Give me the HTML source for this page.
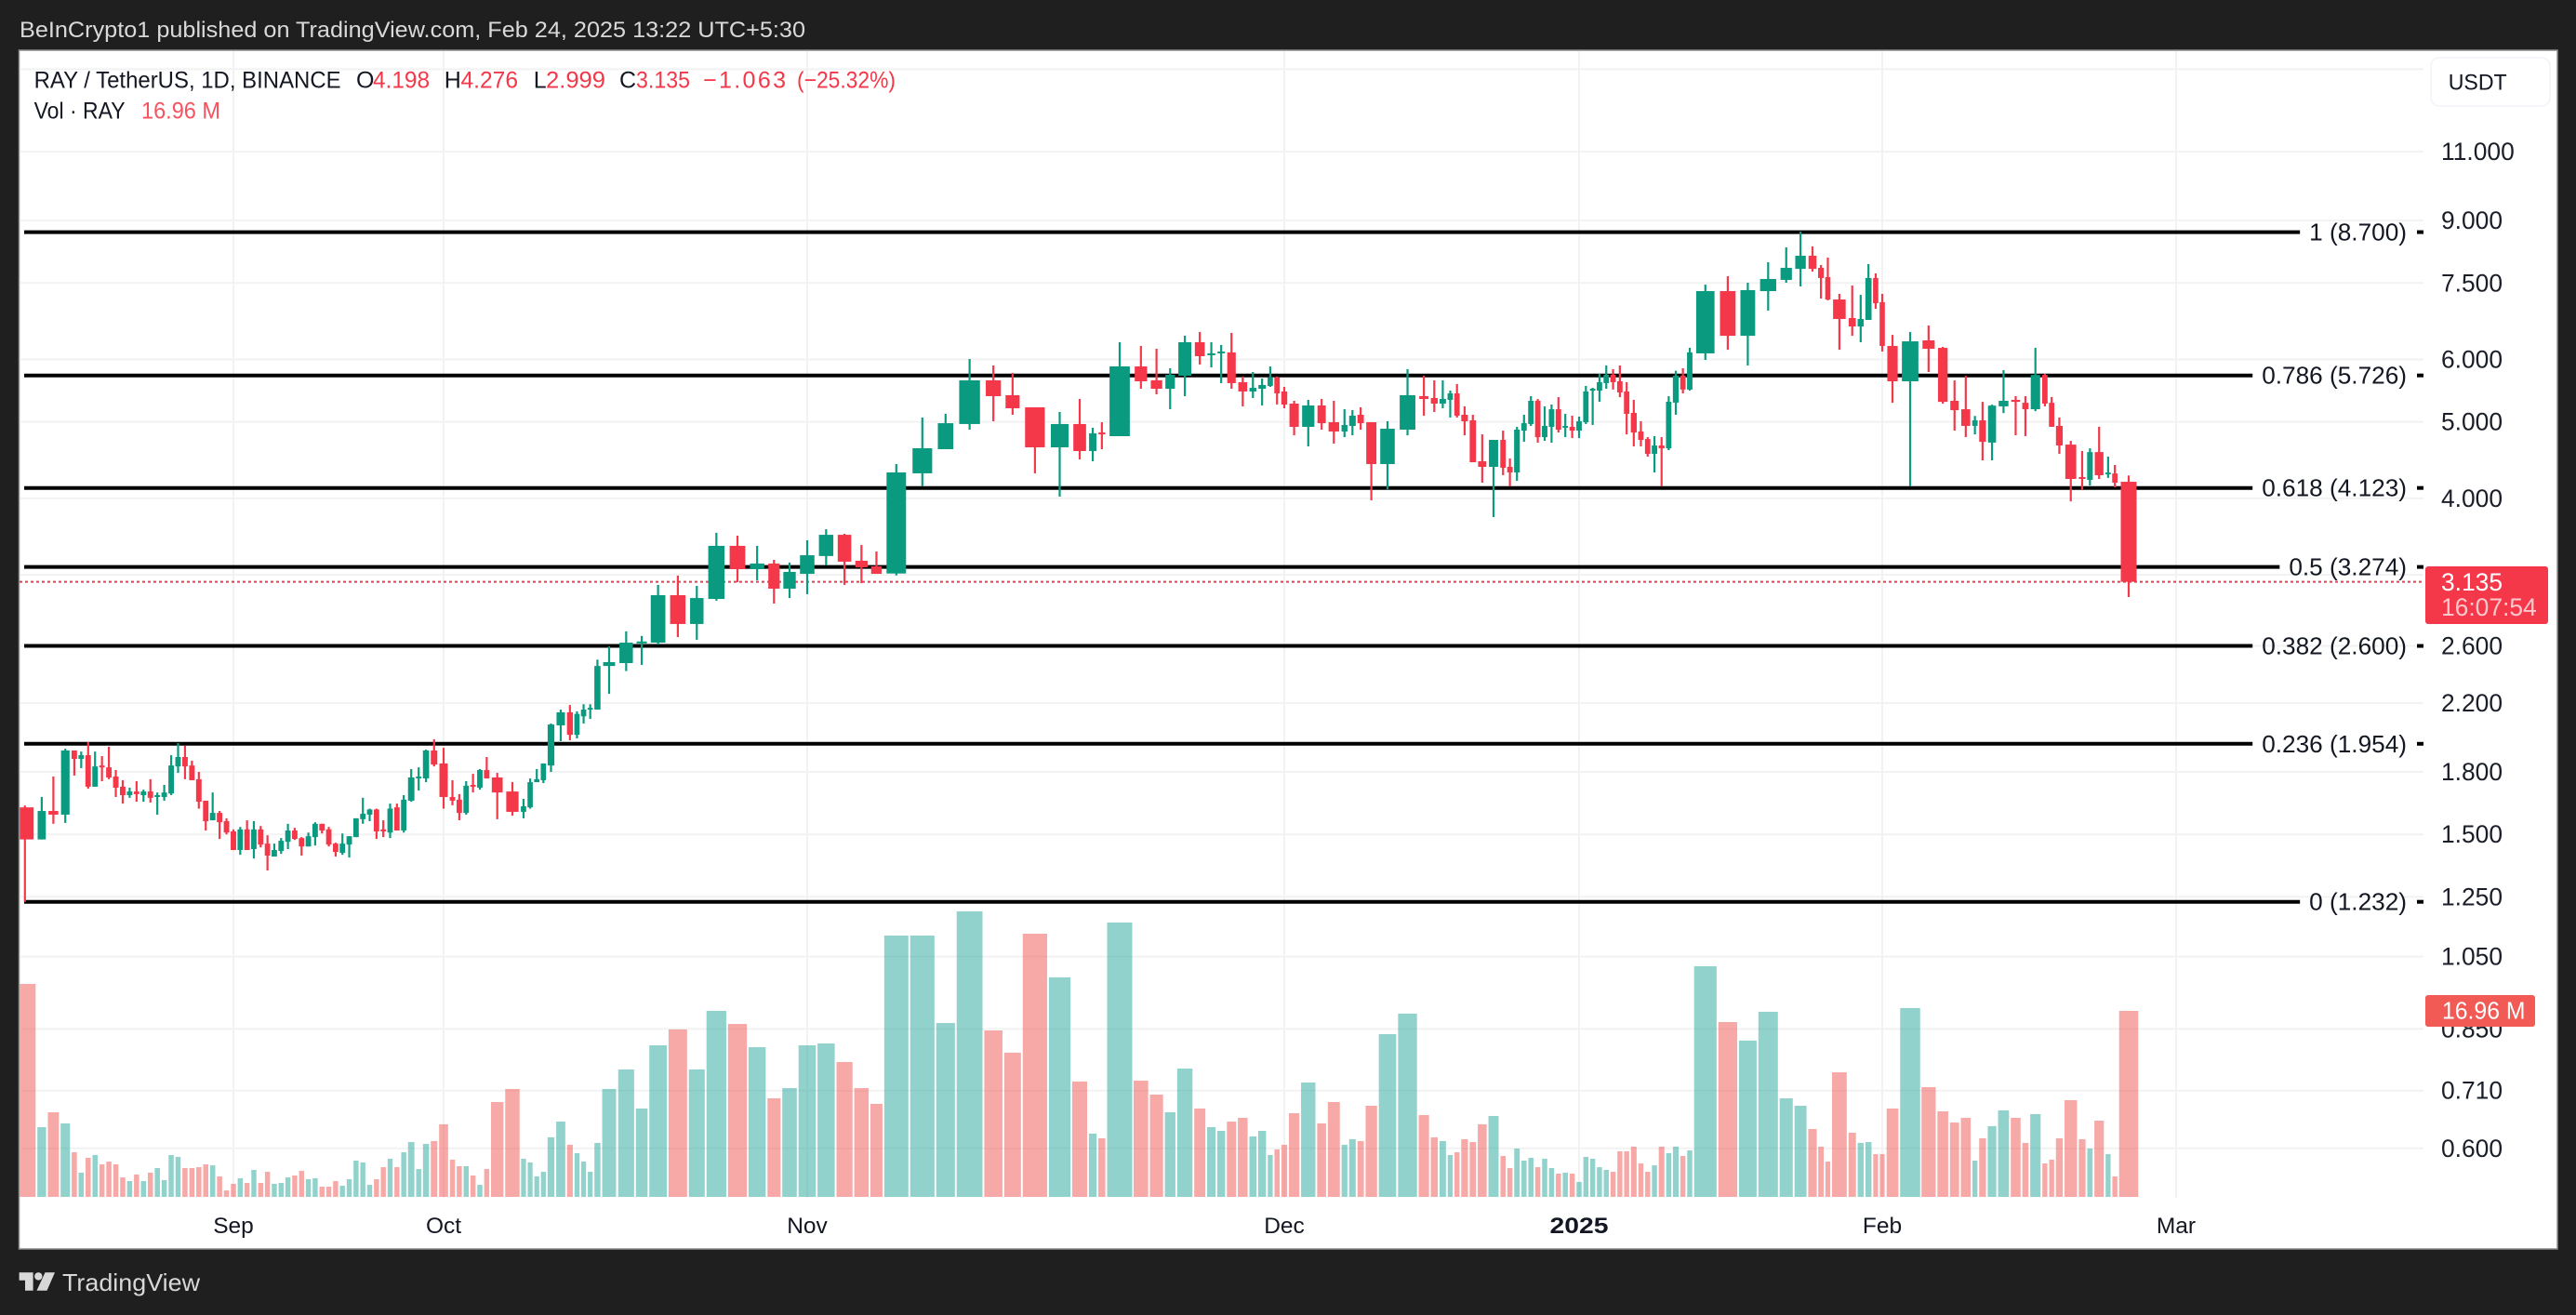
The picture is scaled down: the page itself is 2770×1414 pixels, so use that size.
<!DOCTYPE html>
<html lang="en">
<head>
<meta charset="utf-8">
<title>RAY / TetherUS, 1D, BINANCE</title>
<style>
html,body{margin:0;padding:0;background:#1f1f1f;}
svg{display:block;font-family:"Liberation Sans",Arial,sans-serif;}
</style>
</head>
<body>
<svg id="chart" xmlns="http://www.w3.org/2000/svg" width="2770" height="1414" viewBox="0 0 2770 1414">
  <rect x="0" y="0" width="2770" height="1414" fill="#1f1f1f"/>
  <text x="21" y="40" font-size="24.5" fill="#d9d9d9" textLength="845" lengthAdjust="spacingAndGlyphs">BeInCrypto1 published on TradingView.com, Feb 24, 2025 13:22 UTC+5:30</text>
  <rect x="20.5" y="54" width="2729.5" height="1289" fill="#ffffff" stroke="#8c8c8c" stroke-width="1.5"/>
  <defs><clipPath id="plot-clip"><rect x="21.3" y="55" width="2585" height="1233"/></clipPath></defs>
  <g id="grid"></g>
  <g id="volume" clip-path="url(#plot-clip)"></g>
  <g id="fib"></g>
  <line id="lastLine" x1="21" x2="2604" stroke="#f43749" stroke-width="2" stroke-dasharray="3 3"/>
  <g id="candles" clip-path="url(#plot-clip)"></g>
  <g id="yAxis"></g>
  <g id="xAxis"></g>

  <g font-size="25" fill="#131722">
    <text x="36.6" y="94.6" textLength="330" lengthAdjust="spacingAndGlyphs">RAY / TetherUS, 1D, BINANCE</text>
    <text x="383" y="94.6">O</text>
    <text x="401" y="94.6" fill="#f43749" textLength="61" lengthAdjust="spacingAndGlyphs">4.198</text>
    <text x="477.7" y="94.6">H</text>
    <text x="495.5" y="94.6" fill="#f43749" textLength="61.5" lengthAdjust="spacingAndGlyphs">4.276</text>
    <text x="573.7" y="94.6">L</text>
    <text x="587" y="94.6" fill="#f43749" textLength="64" lengthAdjust="spacingAndGlyphs">2.999</text>
    <text x="666" y="94.6">C</text>
    <text x="684" y="94.6" fill="#f43749" textLength="58" lengthAdjust="spacingAndGlyphs">3.135</text>
    <text x="756" y="94.6" fill="#f43749" textLength="89" lengthAdjust="spacing">−1.063</text>
    <text x="857" y="94.6" fill="#f43749" textLength="106" lengthAdjust="spacingAndGlyphs">(−25.32%)</text>
    <text x="36.6" y="127.6" textLength="98" lengthAdjust="spacingAndGlyphs">Vol · RAY</text>
    <text x="152" y="127.6" fill="#f7525f" textLength="85" lengthAdjust="spacingAndGlyphs">16.96 M</text>
  </g>

  <g>
    <rect x="2614" y="62" width="128" height="52" rx="9" fill="#ffffff" stroke="#f0f3fa" stroke-width="1.5"/>
    <text x="2632.7" y="96.5" font-size="24" fill="#131722" textLength="63" lengthAdjust="spacingAndGlyphs">USDT</text>
  </g>

  <g>
    <rect x="2608" y="609" width="132" height="62" rx="3" fill="#f43749"/>
    <text x="2625" y="635" font-size="26.4" fill="#ffffff">3.135</text>
    <text x="2625" y="662" font-size="26.4" fill="#fcc8cd">16:07:54</text>
  </g>
  <g>
    <rect x="2608" y="1070" width="118" height="34" rx="3" fill="#f15a55"/>
    <text x="2626" y="1095.7" font-size="26" fill="#ffffff" textLength="89.5" lengthAdjust="spacingAndGlyphs">16.96 M</text>
  </g>

  <g fill="#d8d8d8">
    <path d="M20.6 1368.3H35.6V1387.7H27V1376.7H20.6Z"/>
    <circle cx="41.3" cy="1372.4" r="4.2"/>
    <path d="M48.5 1368.3H59L50.5 1387.7H39.5Z"/>
    <text x="67" y="1388" font-size="26" textLength="148" lengthAdjust="spacingAndGlyphs">TradingView</text>
  </g>
</svg>

<script>
// ---- Chart data (Aug 5 2024 – Feb 24 2025, one entry per day) ----
const opens = [
1.623,1.478,1.606,1.589,1.916,1.870,1.890,1.724,1.834,1.824,
1.776,1.724,1.682,1.700,1.682,1.700,1.673,1.673,1.690,1.829,
1.880,1.834,1.762,1.655,1.563,1.597,1.559,1.513,1.433,1.522,
1.437,1.522,1.460,1.406,1.429,1.468,1.517,1.484,1.448,1.488,
1.547,1.522,1.460,1.421,1.456,1.488,1.568,1.589,1.613,1.522,
1.508,1.623,1.517,1.655,1.766,1.766,1.916,1.845,1.673,1.660,
1.597,1.733,1.719,1.810,1.771,1.700,1.602,1.623,1.747,1.757,
1.834,2.062,2.142,2.006,2.117,2.159,2.159,2.452,2.473,2.619,
2.625,3.015,2.772,2.982,3.482,3.253,3.307,3.073,3.209,3.380,
3.596,3.334,3.280,3.212,4.303,4.617,4.969,5.645,5.405,5.217,
4.642,4.969,4.592,4.848,4.796,5.879,5.645,5.508,5.721,6.309,
6.074,6.107,6.124,5.614,5.464,5.508,5.553,5.691,5.464,5.274,
4.928,5.245,4.995,4.862,4.941,5.105,4.995,4.421,4.888,5.390,
5.361,5.274,5.332,5.434,5.105,5.023,4.457,4.385,4.744,4.385,
4.314,4.874,4.969,5.317,4.782,4.928,5.188,4.915,4.928,4.874,
4.995,5.478,5.478,5.599,5.737,5.629,5.464,5.133,4.862,4.756,
4.555,4.667,4.629,5.289,5.721,5.495,6.107,7.324,6.428,7.324,
7.568,7.815,8.120,7.838,7.629,7.147,6.770,6.606,6.733,7.609,
7.090,6.240,5.629,6.343,6.206,5.317,5.188,4.942,5.023,4.707,
5.232,5.332,5.287,5.188,5.734,5.287,4.942,4.679,4.256,4.221,
4.578,4.290,4.301,4.198];
const highs = [
1.632,1.673,1.776,1.926,1.916,1.910,1.964,1.910,1.885,1.937,
1.810,1.757,1.719,1.752,1.709,1.762,1.695,1.733,1.890,1.958,
1.943,1.860,1.800,1.655,1.695,1.606,1.572,1.522,1.533,1.563,
1.559,1.537,1.496,1.460,1.484,1.547,1.529,1.488,1.508,1.554,
1.547,1.533,1.464,1.504,1.492,1.572,1.669,1.617,1.617,1.563,
1.641,1.641,1.682,1.815,1.824,1.921,1.980,1.931,1.757,1.687,
1.752,1.790,1.815,1.880,1.795,1.747,1.664,1.766,1.815,1.845,
2.073,2.159,2.188,2.148,2.193,2.193,2.498,2.597,2.713,2.677,
3.107,3.192,3.098,3.617,3.587,3.482,3.343,3.316,3.539,3.655,
3.607,3.491,3.425,4.421,5.064,5.119,6.008,5.895,5.768,5.217,
5.147,5.346,4.915,4.995,6.309,6.241,6.190,5.847,6.430,6.500,
6.309,6.258,6.483,5.706,5.784,5.675,5.879,5.706,5.538,5.317,
5.332,5.346,5.317,5.188,5.175,5.217,4.995,5.009,5.832,5.721,
5.645,5.645,5.478,5.584,5.231,5.105,4.821,4.744,4.874,4.493,
4.928,5.105,5.390,5.346,5.231,5.260,5.374,5.119,5.091,5.078,
5.553,5.522,5.752,5.895,5.832,5.895,5.614,5.332,5.009,4.782,
4.796,4.782,5.390,5.805,5.847,6.207,7.464,7.649,7.505,7.968,
8.321,8.713,8.344,7.902,8.077,7.265,7.444,7.244,7.924,7.712,
7.265,6.445,6.499,6.624,6.223,5.643,5.718,5.088,5.301,5.258,
5.815,5.390,5.390,6.206,5.752,5.377,5.064,4.731,4.592,4.629,
4.929,4.518,4.409,4.276];
const lows = [
1.232,1.478,1.547,1.551,1.781,1.820,1.714,1.724,1.752,1.762,
1.673,1.641,1.669,1.650,1.650,1.646,1.589,1.655,1.682,1.795,
1.762,1.757,1.617,1.517,1.563,1.480,1.500,1.433,1.413,1.433,
1.398,1.444,1.350,1.406,1.417,1.437,1.476,1.410,1.448,1.452,
1.504,1.448,1.406,1.413,1.402,1.488,1.547,1.559,1.480,1.488,
1.484,1.517,1.508,1.650,1.705,1.747,1.829,1.617,1.633,1.563,
1.589,1.695,1.709,1.766,1.568,1.584,1.572,1.617,1.747,1.742,
1.800,1.969,1.974,1.985,2.073,2.101,2.159,2.261,2.416,2.460,
2.610,2.668,2.647,2.967,3.132,3.149,2.942,2.990,3.024,3.289,
3.107,3.123,3.209,3.194,4.142,4.617,4.888,5.009,5.105,4.303,
4.020,4.481,4.457,4.617,4.796,5.508,5.419,5.188,5.390,5.911,
5.862,5.599,5.508,5.231,5.361,5.245,5.538,5.260,5.203,4.808,
4.655,4.888,4.693,4.782,4.808,4.888,3.977,4.106,4.808,5.091,
5.147,5.203,5.064,5.064,4.808,4.445,4.187,3.787,4.280,4.142,
4.209,4.719,4.941,4.706,4.731,4.706,4.848,4.782,4.769,4.769,
4.969,4.955,5.303,5.508,5.495,5.374,4.821,4.655,4.655,4.518,
4.314,4.142,4.604,5.105,5.434,5.478,5.991,6.172,5.894,6.919,
7.505,7.425,7.754,7.167,7.129,6.172,6.428,6.308,6.733,6.956,
6.140,5.287,4.142,5.784,5.274,4.874,4.783,4.821,4.469,4.469,
5.130,4.809,4.797,5.159,5.232,4.929,4.554,3.965,4.097,4.153,
4.233,4.246,4.131,2.999];
const closes = [
1.478,1.606,1.589,1.916,1.870,1.890,1.724,1.829,1.824,1.771,
1.719,1.682,1.700,1.687,1.700,1.669,1.682,1.695,1.834,1.880,
1.829,1.757,1.650,1.559,1.597,1.554,1.508,1.433,1.522,1.433,
1.522,1.456,1.410,1.433,1.472,1.517,1.480,1.448,1.492,1.547,
1.517,1.456,1.425,1.460,1.492,1.572,1.593,1.613,1.513,1.513,
1.617,1.517,1.660,1.771,1.776,1.916,1.839,1.673,1.655,1.597,
1.729,1.724,1.810,1.766,1.695,1.602,1.628,1.747,1.762,1.845,
2.067,2.142,2.006,2.132,2.159,2.170,2.452,2.480,2.625,2.634,
3.015,2.772,2.990,3.482,3.253,3.307,3.073,3.227,3.388,3.596,
3.325,3.271,3.209,4.314,4.630,4.981,5.645,5.390,5.203,4.642,
4.969,4.592,4.836,4.821,5.879,5.629,5.508,5.737,6.309,6.057,
6.107,6.140,5.599,5.464,5.522,5.568,5.691,5.434,5.260,4.928,
5.245,4.981,4.862,4.955,5.091,4.981,4.421,4.901,5.405,5.346,
5.274,5.346,5.434,5.091,5.009,4.445,4.385,4.744,4.373,4.314,
4.888,4.981,5.317,4.782,4.941,5.188,4.888,4.941,4.874,5.009,
5.464,5.508,5.614,5.737,5.614,5.449,5.119,4.848,4.744,4.555,
4.667,4.629,5.303,5.721,5.495,6.124,7.324,6.428,7.345,7.588,
7.838,8.120,7.815,7.609,7.147,6.752,6.606,6.752,7.609,7.069,
6.240,5.629,6.325,6.189,5.301,5.174,4.942,5.023,4.717,5.243,
5.317,5.301,5.188,5.734,5.274,4.929,4.667,4.233,4.233,4.578,
4.279,4.313,4.187,3.135];
// Volume in millions of RAY
const volumes = [
19.42,6.36,7.72,6.70,4.07,2.21,3.56,3.82,2.97,3.22,
2.97,1.78,1.44,2.04,1.44,2.21,2.63,1.53,3.82,3.65,
2.63,2.63,2.71,2.97,2.88,1.87,0.59,1.19,1.70,1.27,
2.46,1.27,2.29,1.19,1.27,1.78,1.95,2.37,1.61,1.70,
0.93,0.93,1.44,1.02,1.61,3.31,3.14,1.10,1.61,2.71,
3.48,2.71,4.07,5.00,2.54,4.83,5.09,6.62,3.39,2.80,
2.80,1.95,1.10,2.54,8.65,9.84,3.48,3.14,1.87,2.29,
5.43,6.87,4.75,3.99,3.22,2.29,4.92,9.84,11.62,8.06,
13.82,15.27,11.62,16.96,15.77,13.65,8.99,9.92,13.82,13.99,
12.30,9.92,8.48,23.83,23.83,15.86,26.04,15.18,13.15,24.00,
20.02,10.52,5.77,5.34,25.02,10.60,9.33,7.72,11.70,8.06,
6.36,6.02,6.87,7.21,5.51,6.02,3.82,4.33,4.75,7.63,
10.43,6.70,8.65,4.75,5.26,5.09,8.31,14.84,16.71,7.46,
5.43,5.09,3.82,4.07,5.26,5.00,6.62,7.38,3.73,2.63,
4.41,3.31,3.56,2.71,3.48,2.63,2.12,2.21,2.12,1.36,
3.65,3.48,2.71,2.46,2.29,4.16,4.16,4.58,3.05,2.29,
2.88,4.58,3.99,4.58,3.73,4.24,21.03,15.94,14.25,16.88,
8.99,8.31,6.19,4.58,3.22,11.36,5.85,4.92,5.00,3.90,
3.90,8.06,17.22,10.01,7.80,6.78,7.21,3.31,5.34,6.45,
7.89,7.21,4.92,7.55,3.05,3.39,5.34,8.82,5.26,4.41,
6.95,3.90,1.87,16.96];
const priceTicks = [14,11,9,7.5,6,5,4,3.2,2.6,2.2,1.8,1.5,1.25,1.05,0.85,0.71,0.6];
const fibRatios = ["1","0.786","0.618","0.5","0.382","0.236","0"];
const fibPrices = [8.700,5.726,4.123,3.274,2.600,1.954,1.232];
const timeTickLabels = ["Sep","Oct","Nov","Dec","2025","Feb","Mar"];
const timeTickDays = [27,57,88,118,149,180,208]; // days since Aug 5
const lastPrice = 3.135;

// ---- Axis functions ----
const SVG_NS = "http://www.w3.org/2000/svg";
function yScale(price){ return 969.7 - 368.4 * Math.log(price / 1.232); }
function volHeight(v){ return v * 200 / 16.96; }
const VOL_BASE = 1287;

// Volume-candle time axis: each day's slot width depends on that day's volume.
function slotOf(v){
  if (v < 4.2) return 7.3;
  if (v < 9.84) return 7.3 + (v - 4.2) * 1.755;
  return 17.2 + (v - 9.84) * 0.75;
}
function makeTimeScale(){
  const calibration = [[0,26.8],[27,251],[57,477],[65,551],[77,655],[84,793],[88,868],[93,963.8],[104,1204],[118,1381],
    [127,1492],[137,1606],[149,1698],[165,1817],[172,1949],[180,2024],[182,2054],[193,2188.7],[203,2289]];
  const raw = [0];
  for (let i = 1; i < volumes.length; i++) raw[i] = raw[i-1] + (slotOf(volumes[i-1]) + slotOf(volumes[i])) / 2;
  function segment(i){
    let s = 0;
    while (s < calibration.length - 2 && i > calibration[s+1][0]) s++;
    return [calibration[s], calibration[s+1]];
  }
  function k(i){
    const seg = segment(i);
    return (seg[1][1] - seg[0][1]) / (raw[seg[1][0]] - raw[seg[0][0]]);
  }
  return {
    x(i){
      if (i > 203) return this.x(203) + (i - 203) * 10.2;
      const seg = segment(i);
      return seg[0][1] + (raw[i] - raw[seg[0][0]]) * k(i);
    },
    width(i){ return Math.max(4.5, slotOf(volumes[i]) * k(i) - 1.9); }
  };
}
const timeScale = makeTimeScale();

function mk(tag, attrs, parent){
  const el = document.createElementNS(SVG_NS, tag);
  for (const a in attrs) el.setAttribute(a, attrs[a]);
  parent.appendChild(el);
  return el;
}

// ---- Grid ----
const gridG = document.getElementById("grid");
priceTicks.forEach(function(p){
  const el = mk("line", {x1:21.3, x2:2606, y1:yScale(p), y2:yScale(p), stroke:"#f2f2f2", "stroke-width":2}, gridG);
  
  
});
timeTickDays.forEach(function(d){
  const x = timeScale.x(d);
  const el = mk("line", {x1:x, x2:x, y1:55, y2:1288, stroke:"#f2f2f2", "stroke-width":2}, gridG);
  
  
});

// ---- Volume ----
const volG = document.getElementById("volume");
volumes.forEach(function(v, i){
  const up = closes[i] >= opens[i];
  const w = timeScale.width(i), h = volHeight(v), x = timeScale.x(i);
  const el = mk("rect", {x:x - w/2, y:VOL_BASE - h, width:w, height:h, fill: up ? "#26a69a" : "#ef5350", "fill-opacity":0.5}, volG);
  
  
});

// ---- Fibonacci levels ----
const fibG = document.getElementById("fib");
fibPrices.forEach(function(p, i){
  const y = yScale(p);
  const label = mk("text", {x:2588, y:y + 9, "text-anchor":"end", "font-size":26.2, fill:"#131722"}, fibG);
  
  
  label.textContent = fibRatios[i] + " (" + p.toFixed(3) + ")";
  const end = 2588 - label.getComputedTextLength() - 10;
  const line = mk("line", {x1:26, x2:end, y1:y, y2:y, stroke:"#000000", "stroke-width":4}, fibG);
  
  
  const dash = mk("line", {x1:2599, x2:2606, y1:y, y2:y, stroke:"#000000", "stroke-width":4}, fibG);
  
  
});

const lastLine = document.getElementById("lastLine");
lastLine.setAttribute("y1", yScale(lastPrice));
lastLine.setAttribute("y2", yScale(lastPrice));

// ---- Candles ----
const candleG = document.getElementById("candles");
opens.forEach(function(o, i){
  const c = closes[i], up = c >= o;
  const col = up ? "#0a9a80" : "#f43749";
  const x = timeScale.x(i);
  const bw = 1.8 + 0.74 * timeScale.width(i);
  const top = yScale(Math.max(o, c)), bot = yScale(Math.min(o, c));
  const g = mk("g", {}, candleG);
  
  
  const wick = mk("rect", {x:x - 1.1, y:yScale(highs[i]), width:2.2, height:yScale(lows[i]) - yScale(highs[i]), fill:col}, g);
  
  
  const body = mk("rect", {x:x - bw/2, y:top, width:bw, height:Math.max(1.8, bot - top), fill:col}, g);
  
  
});

// ---- Axes ----
const yG = document.getElementById("yAxis");
priceTicks.forEach(function(p){
  // 14.000 and 3.200 sit under the currency button and the last-price tag in the original.
  if (p === 14 || p === 3.2) return;
  const t = mk("text", {x:2625, y:yScale(p) + 9, "font-size":26.4, fill:"#1a1e29"}, yG);
  
  
  t.textContent = p.toFixed(3);
});
const xG = document.getElementById("xAxis");
timeTickLabels.forEach(function(label, i){
  const bold = label === "2025";
  const t = mk("text", {x:timeScale.x(timeTickDays[i]), y:1326, "text-anchor":"middle", "font-size":24.5, fill:"#131722", "font-weight": bold ? "700" : "400"}, xG);
  
  
  if (bold) { t.setAttribute("textLength", "63"); t.setAttribute("lengthAdjust", "spacingAndGlyphs"); }
  t.textContent = label;
});
</script>
</body>
</html>
